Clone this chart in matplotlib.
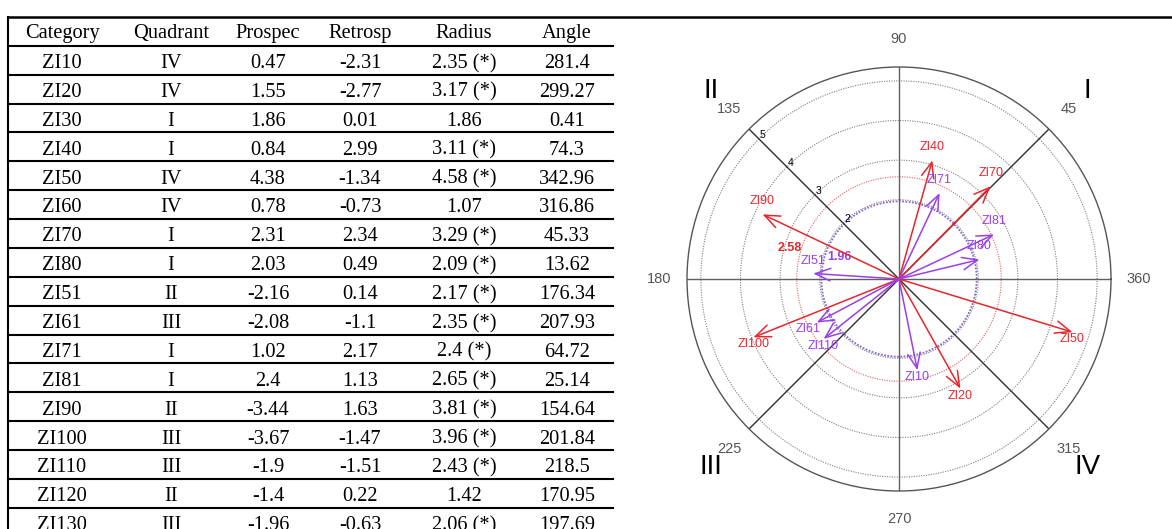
import numpy as np
import matplotlib
matplotlib.use("Agg")
import matplotlib.pyplot as plt
from matplotlib.lines import Line2D

# ---------------- data ----------------
headers = ["Category", "Quadrant", "Prospec", "Retrosp", "Radius", "Angle"]
categories = ["ZI10", "ZI20", "ZI30", "ZI40", "ZI50", "ZI60", "ZI70", "ZI80",
              "ZI51", "ZI61", "ZI71", "ZI81", "ZI90", "ZI100", "ZI110", "ZI120", "ZI130"]
quadrants = ["IV", "IV", "I", "I", "IV", "IV", "I", "I",
             "II", "III", "I", "I", "II", "III", "III", "II", "III"]
prospec = [0.47, 1.55, 1.86, 0.84, 4.38, 0.78, 2.31, 2.03,
           -2.16, -2.08, 1.02, 2.4, -3.44, -3.67, -1.9, -1.4, -1.96]
retrosp = [-2.31, -2.77, 0.01, 2.99, -1.34, -0.73, 2.34, 0.49,
           0.14, -1.1, 2.17, 1.13, 1.63, -1.47, -1.51, 0.22, -0.63]
radius = [2.35, 3.17, 1.86, 3.11, 4.58, 1.07, 3.29, 2.09,
          2.17, 2.35, 2.4, 2.65, 3.81, 3.96, 2.43, 1.42, 2.06]
significant = [True, True, False, True, True, False, True, True,
               True, True, True, True, True, True, True, False, True]
angles = [281.4, 299.27, 0.41, 74.3, 342.96, 316.86, 45.33, 13.62,
          176.34, 207.93, 64.72, 25.14, 154.64, 201.84, 218.5, 170.95, 197.69]

# vectors shown in the compass plot and their colour group
red_vectors = ["ZI20", "ZI40", "ZI50", "ZI70", "ZI90", "ZI100"]
purple_vectors = ["ZI10", "ZI51", "ZI61", "ZI71", "ZI80", "ZI81", "ZI110"]
ring_values = [2, 3, 4, 5]
crit_red = 2.58
crit_purple = 1.96
angle_labels = [(0, "360"), (45, "45"), (90, "90"), (135, "135"),
                (180, "180"), (225, "225"), (270, "270"), (315, "315")]
quadrant_labels = [(45, "I"), (135, "II"), (225, "III"), (315, "IV")]

# ---------------- figure ----------------
W, H = 1172, 529
fig = plt.figure(figsize=(W / 100, H / 100), dpi=100)

def fx(x):
    return x / W

def fy(y):
    return 1 - y / H

serif = ["Liberation Serif", "DejaVu Serif"]
sans = ["Liberation Sans", "DejaVu Sans"]

# ---- table ----
col_x = [62, 171, 268, 360, 464, 567]
table_left, table_right = 7.5, 613
top_y = 16.8
head_bottom = 45.8
row_h = 28.88
fs_table = 14.7

# top rule across the full width
fig.add_artist(Line2D([fx(table_left), fx(W)], [fy(top_y), fy(top_y)],
                      transform=fig.transFigure, color="black", lw=1.8))
# left border
fig.add_artist(Line2D([fx(table_left), fx(table_left)], [fy(top_y), fy(H + 5)],
                      transform=fig.transFigure, color="black", lw=1.5))

for j, h in enumerate(headers):
    fig.text(fx(col_x[j]), fy(top_y + 20.8), h, ha="center", va="baseline",
             family=serif, fontsize=fs_table)

n = len(categories)
for i in range(n):
    top = head_bottom + i * row_h
    fig.add_artist(Line2D([fx(table_left), fx(table_right)], [fy(top), fy(top)],
                          transform=fig.transFigure, color="black", lw=1.5))
    rad = f"{radius[i]} (*)" if significant[i] else f"{radius[i]}"
    vals = [categories[i], quadrants[i], f"{prospec[i]}", f"{retrosp[i]}", rad, f"{angles[i]}"]
    for j, v in enumerate(vals):
        fig.text(fx(col_x[j]), fy(top + 22.3), v, ha="center", va="baseline",
                 family=serif, fontsize=fs_table)

# ---- polar compass ----
cx, cy, R = 899, 279, 212
ax = fig.add_axes([fx(cx - R), fy(cy + R), 2 * R / W, 2 * R / H], projection="polar")
rmax = 5.35
ax.set_theta_zero_location("E")
ax.set_ylim(0, rmax)
ax.set_xticks([])
ax.set_yticks([])
ax.grid(False)
ax.spines["polar"].set_color("#555555")
ax.spines["polar"].set_linewidth(1.0)
ax.patch.set_alpha(0)

th = np.linspace(0, 2 * np.pi, 721)
for rv in ring_values:
    ax.plot(th, np.full_like(th, rv), color="#808080", lw=0.8, ls=(0, (1, 1.2)), zorder=1)
ax.plot(th, np.full_like(th, crit_red), color="#e86060", lw=0.8, ls=(0, (1, 1.2)), zorder=1)
ax.plot(th, np.full_like(th, crit_purple), color="#8a6ad0", lw=1.3, ls=(0, (1, 0.8)), zorder=1)

# spokes
for a in [0, 90, 180, 270]:
    ax.plot([np.deg2rad(a)] * 2, [0, rmax], color="#606060", lw=1.0, zorder=2)
for a in [45, 135, 225, 315]:
    ax.plot([np.deg2rad(a)] * 2, [0, rmax], color="#303030", lw=1.0, zorder=2)

# ring labels along 135 deg
for rv in ring_values:
    ax.annotate(str(rv), xy=(np.deg2rad(135), rv), xytext=(4, 4), textcoords="offset pixels",
                ha="center", va="center", fontsize=7.5, family=sans, color="black")

# angle labels
for a, lab in angle_labels:
    ax.text(np.deg2rad(a), 6.05, lab, ha="center", va="center", fontsize=10.5,
            family=sans, color="#555555")
for a, lab in quadrant_labels:
    ax.text(np.deg2rad(a), 6.72, lab, ha="center", va="center", fontsize=20,
            family=sans, color="black")

red = "#e8262b"
purple = "#9a40e8"
special_offsets = {"ZI61": (-9, -6)}

def draw_vec(name, color):
    i = categories.index(name)
    t = np.deg2rad(angles[i])
    r = radius[i]
    ax.annotate("", xy=(t, r), xytext=(0, 0),
                arrowprops=dict(arrowstyle="->,head_length=1.1,head_width=0.45",
                                mutation_scale=10, color=color, lw=1.1,
                                shrinkA=0, shrinkB=0), zorder=4)
    if name in special_offsets:
        off = special_offsets[name]
    elif retrosp[i] >= 0:
        off = (0, 13)
    else:
        off = (0, -7)
    ax.annotate(name, xy=(t, r), xytext=off, textcoords="offset pixels",
                ha="center", va="center", fontsize=9, family=sans, color=color, zorder=5)

for nm in red_vectors:
    draw_vec(nm, red)
for nm in purple_vectors:
    draw_vec(nm, purple)

ax.text(np.deg2rad(164), 2.88, f"{crit_red}", ha="center", va="center", fontsize=9,
        family=sans, color=red, fontweight="bold")
ax.text(np.deg2rad(160), 1.6, f"{crit_purple}", ha="center", va="center", fontsize=9,
        family=sans, color=purple, fontweight="bold")

fig.savefig("out.png", dpi=100)
